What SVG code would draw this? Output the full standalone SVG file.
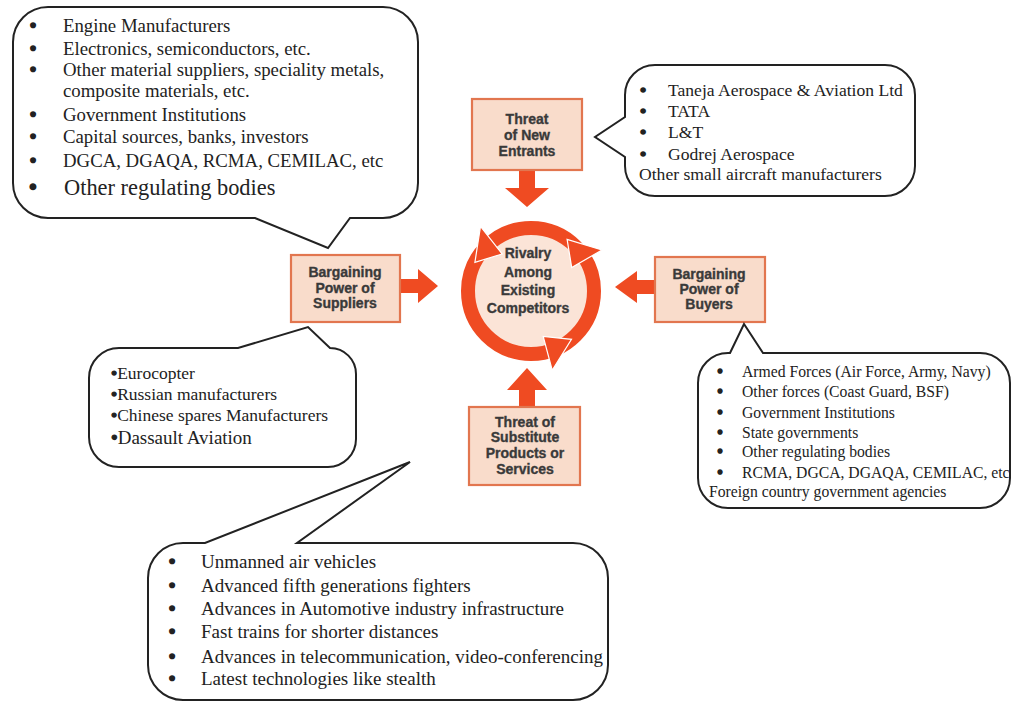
<svg xmlns="http://www.w3.org/2000/svg" width="1013" height="702" viewBox="0 0 1013 702">
<style>
.bubble{fill:#fff;stroke:#222;stroke-width:2;stroke-linejoin:miter}
.t{font-family:"Liberation Serif","Times New Roman",serif;fill:#222}
.b{text-anchor:middle;stroke:#222;stroke-width:1.6}
.bi{stroke:#222;stroke-width:1.2}
.box{fill:#f9dccb;stroke:#e2764f;stroke-width:2.2}
.bt{font-family:"Liberation Sans",Arial,sans-serif;font-weight:bold;font-size:14px;fill:#3a3a3a;stroke:#3a3a3a;stroke-width:0.35;text-anchor:middle}
.arr{fill:#ef4b22}
.head{fill:#ef4b22;stroke:#fff;stroke-width:1.2}
</style>
<rect width="1013" height="702" fill="#fff"/>

<g id="connectors">
  <polygon class="arr" points="519,170 535,170 535,188 549,188 527,207 505,188 519,188"/>
  <polygon class="arr" points="400,279 418,279 418,269 438,286 418,303 418,293 400,293"/>
  <polygon class="arr" points="655,280 637,280 637,271 615,287 637,303 637,294 655,294"/>
  <polygon class="arr" points="519,407 519,390 507,390 527,368 547,390 535,390 535,407"/>
</g>

<g id="rivalry">
  <circle cx="531" cy="291" r="57" fill="#fbe4d7"/>
  <circle cx="531" cy="291" r="63" fill="none" stroke="#ef4b22" stroke-width="14"/>
  <polygon class="head" points="480.5,226.4 502.1,254 474.9,262.4"/>
  <polygon class="head" points="602,250 571.7,267.5 567.1,239.4"/>
  <polygon class="head" points="552.2,370.2 543.2,336.4 571.5,339.3"/>
  <text class="bt" x="528" y="258">Rivalry</text>
  <text class="bt" x="528" y="277">Among</text>
  <text class="bt" x="528" y="295">Existing</text>
  <text class="bt" x="528" y="313">Competitors</text>
</g>

<g id="new-entrants">
  <rect class="box" x="472" y="99" width="110" height="71"/>
  <text class="bt" x="527" y="124">Threat</text>
  <text class="bt" x="527" y="140">of New</text>
  <text class="bt" x="527" y="156">Entrants</text>
</g>

<g id="suppliers">
  <rect class="box" x="291" y="255" width="109" height="67"/>
  <text class="bt" x="345" y="277">Bargaining</text>
  <text class="bt" x="345" y="293">Power of</text>
  <text class="bt" x="345" y="308">Suppliers</text>
</g>

<g id="buyers">
  <rect class="box" x="655" y="257" width="110" height="65"/>
  <text class="bt" x="709" y="279">Bargaining</text>
  <text class="bt" x="709" y="294">Power of</text>
  <text class="bt" x="709" y="309">Buyers</text>
</g>

<g id="substitutes">
  <rect class="box" x="469" y="407" width="111" height="78"/>
  <text class="bt" x="525" y="427">Threat of</text>
  <text class="bt" x="525" y="442">Substitute</text>
  <text class="bt" x="525" y="458">Products or</text>
  <text class="bt" x="525" y="474">Services</text>
</g>

<g id="callout-suppliers-top">
  <path class="bubble" d="M48,7 H383 A35,35 0 0 1 418,42 V183 A35,35 0 0 1 383,218 H350 L328,248 L255,218 H48 A35,35 0 0 1 13,183 V42 A35,35 0 0 1 48,7 Z"/>
  <g class="t" font-size="18.8">
    <text class="b" x="33" y="32">•</text><text x="63" y="32">Engine Manufacturers</text>
    <text class="b" x="33" y="55">•</text><text x="63" y="55">Electronics, semiconductors, etc.</text>
    <text class="b" x="33" y="76">•</text><text x="63" y="76">Other material suppliers, speciality metals,</text>
    <text x="63" y="97">composite materials, etc.</text>
    <text class="b" x="33" y="121">•</text><text x="63" y="121">Government Institutions</text>
    <text class="b" x="33" y="143">•</text><text x="63" y="143">Capital sources, banks, investors</text>
    <text class="b" x="33" y="167">•</text><text x="63" y="167">DGCA, DGAQA, RCMA, CEMILAC, etc</text>
    <text class="b" x="33" y="195" font-size="22.4">•</text><text x="64" y="195" font-size="22.4">Other regulating bodies</text>
  </g>
</g>

<g id="callout-new-entrants">
  <path class="bubble" d="M655,65 H885 A30,30 0 0 1 915,95 V166 A30,30 0 0 1 885,196 H655 A30,30 0 0 1 625,166 V157 L595,137 L625,117 V95 A30,30 0 0 1 655,65 Z"/>
  <g class="t" font-size="17.6">
    <text class="b" x="643" y="96">•</text><text x="668" y="96">Taneja Aerospace &amp; Aviation Ltd</text>
    <text class="b" x="643" y="117">•</text><text x="668" y="117">TATA</text>
    <text class="b" x="643" y="138">•</text><text x="668" y="138">L&amp;T</text>
    <text class="b" x="643" y="160">•</text><text x="668" y="160">Godrej Aerospace</text>
    <text x="639" y="180">Other small aircraft manufacturers</text>
  </g>
</g>

<g id="callout-suppliers-foreign">
  <path class="bubble" d="M119,348 H238 L308,327 L330,348 A26,26 0 0 1 356,374 V439 A28,28 0 0 1 328,467 H119 A30,30 0 0 1 89,437 V378 A30,30 0 0 1 119,348 Z"/>
  <g class="t" font-size="17.5">
    <text x="111" y="379"><tspan class="bi">•</tspan>Eurocopter</text>
    <text x="111" y="400"><tspan class="bi">•</tspan>Russian manufacturers</text>
    <text x="111" y="421"><tspan class="bi">•</tspan>Chinese spares Manufacturers</text>
    <text x="111" y="444" font-size="19"><tspan class="bi">•</tspan>Dassault Aviation</text>
  </g>
</g>

<g id="callout-buyers">
  <path class="bubble" d="M730,353 L744,324 L763,353 H980 A30,30 0 0 1 1010,383 V478 A30,30 0 0 1 980,508 H728 A30,30 0 0 1 698,478 V383 A30,30 0 0 1 728,353 Z"/>
  <g class="t" font-size="15.7">
    <text class="b" x="720" y="377">•</text><text x="742" y="377">Armed Forces (Air Force, Army, Navy)</text>
    <text class="b" x="720" y="397">•</text><text x="742" y="397">Other forces (Coast Guard, BSF)</text>
    <text class="b" x="720" y="418">•</text><text x="742" y="418">Government Institutions</text>
    <text class="b" x="720" y="438">•</text><text x="742" y="438">State governments</text>
    <text class="b" x="720" y="457">•</text><text x="742" y="457">Other regulating bodies</text>
    <text class="b" x="720" y="478">•</text><text x="742" y="478">RCMA, DGCA, DGAQA, CEMILAC, etc</text>
    <text x="709" y="497">Foreign country government agencies</text>
  </g>
</g>

<g id="callout-substitutes">
  <path class="bubble" d="M183,543 H205 L410,462 L297,543 H573 A35,35 0 0 1 608,578 V665 A35,35 0 0 1 573,700 H183 A35,35 0 0 1 148,665 V578 A35,35 0 0 1 183,543 Z"/>
  <g class="t" font-size="19">
    <text class="b" x="172" y="568">•</text><text x="201" y="568">Unmanned air vehicles</text>
    <text class="b" x="172" y="592">•</text><text x="201" y="592">Advanced fifth generations fighters</text>
    <text class="b" x="172" y="615">•</text><text x="201" y="615">Advances in Automotive industry infrastructure</text>
    <text class="b" x="172" y="638">•</text><text x="201" y="638">Fast trains for shorter distances</text>
    <text class="b" x="172" y="663">•</text><text x="201" y="663">Advances in telecommunication, video-conferencing</text>
    <text class="b" x="172" y="685">•</text><text x="201" y="685">Latest technologies like stealth</text>
  </g>
</g>
</svg>
